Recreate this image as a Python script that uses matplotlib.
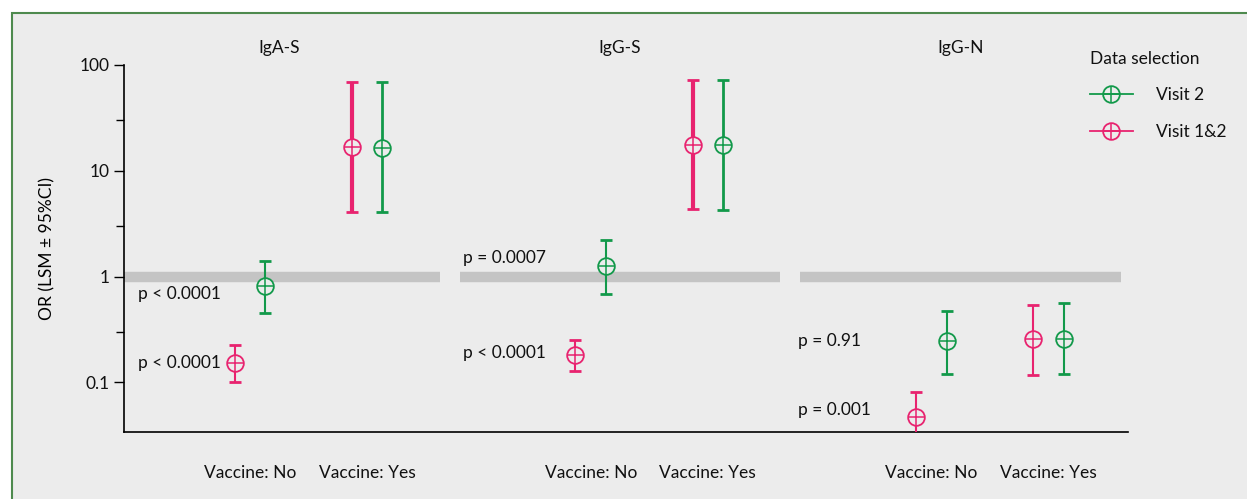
import numpy as np
import matplotlib
matplotlib.use('Agg')
import matplotlib.pyplot as plt
from matplotlib.patches import Rectangle
from matplotlib.lines import Line2D

plt.rcParams['font.family'] = ['Lato', 'DejaVu Sans']
plt.rcParams['font.size'] = 12.5
plt.rcParams['text.color'] = '#111111'

# data: OR (LSM) with 95% CI, per antibody and vaccine status
panels = ['IgA-S', 'IgG-S', 'IgG-N']
categories = ['Vaccine: No', 'Vaccine: Yes']
series = ['Visit 2', 'Visit 1&2']

# [panel][category]
v2_mid = [[0.82, 16.5], [1.27, 17.6], [0.244, 0.255]]
v2_lo = [[0.45, 4.1], [0.69, 4.3], [0.119, 0.119]]
v2_hi = [[1.41, 69], [2.23, 72], [0.47, 0.56]]

v12_mid = [[0.154, 16.8], [0.183, 17.6], [0.047, 0.255]]
v12_lo = [[0.100, 4.1], [0.127, 4.4], [0.0244, 0.117]]
v12_hi = [[0.227, 69], [0.254, 72], [0.082, 0.545]]

# p-value annotations: (panel, text, y)
p_labels = [(0, 'p < 0.0001', 0.68), (0, 'p < 0.0001', 0.154),
            (1, 'p = 0.0007', 1.51), (1, 'p < 0.0001', 0.188),
            (2, 'p = 0.91', 0.244), (2, 'p = 0.001', 0.0545)]

green = '#12994a'
pink = '#e8236f'
bg = '#ececec'

W, H = 1247, 499
fig = plt.figure(figsize=(W / 100, H / 100), dpi=100)
fig.patch.set_facecolor('white')
fig.patches.append(Rectangle((12 / W, -0.05), 1.1, 1 - 13 / H + 0.05, transform=fig.transFigure,
                             facecolor=bg, edgecolor='#4e8a4e', linewidth=1.5, zorder=-5))

ax = fig.add_axes([124 / W, 1 - 432 / H, 1004 / W, 367 / H])
ax.set_facecolor('none')
ax.set_yscale('log')
ax.set_ylim(0.034, 100)

gap = 2.91
off = 0.13
ax.set_xlim(-1.077, 7.5)

# reference bars at OR = 1
for g in range(3):
    x0 = g * gap - 1.12
    ax.plot([x0, x0 + 2.74], [1, 1], color='#c4c4c4', lw=7.5, solid_capstyle='butt', zorder=1)


def draw_point(x, mid, lo, hi, color, lw):
    ax.errorbar([x], [mid], yerr=[[mid - lo], [hi - mid]], fmt='none', ecolor=color,
                elinewidth=lw, capsize=4.5, capthick=2, zorder=3)
    ax.plot([x], [mid], marker='o', ms=12, mfc=bg, mec=color, mew=1.3, zorder=4)
    ax.plot([x], [mid], marker='+', ms=12, mec=color, mew=1.1, zorder=5)


for g in range(3):
    for c in range(2):
        x = g * gap + c
        thick = 3 if (c == 1 and g < 2) else 1.5
        draw_point(x - off, v12_mid[g][c], v12_lo[g][c], v12_hi[g][c], pink, thick)
        draw_point(x + off, v2_mid[g][c], v2_lo[g][c], v2_hi[g][c], green,
                   2 if (c == 1 and g < 2) else 1.5)
    ax.text(g * gap + 0.25, 1.045, panels[g], transform=ax.get_xaxis_transform(),
            ha='center', va='center', fontsize=12.5)

p_xoff = [-0.96, -1.09, -1.14]
for g, txt, y in p_labels:
    ax.text(g * gap + p_xoff[g], y, txt, ha='left', va='center', fontsize=12.5)

ticks = [g * gap + c for g in range(3) for c in range(2)]
ax.set_xticks(ticks)
ax.set_xticklabels(categories * 3)
ax.tick_params(axis='x', length=0, pad=24, labelsize=12.5, labelcolor='#111111')
ax.tick_params(axis='y', which='major', length=7, width=1, labelsize=12.5, labelcolor='#111111')
ax.tick_params(axis='y', which='minor', length=6, width=1)
ax.set_yticks([0.1, 1, 10, 100])
ax.set_yticklabels(['0.1', '1', '10', '100'])
ax.set_yticks([0.3, 3, 30], minor=True)
ax.set_yticklabels([], minor=True)

for s in ['top', 'right']:
    ax.spines[s].set_visible(False)
ax.spines['left'].set_linewidth(1.2)
ax.spines['bottom'].set_linewidth(1.2)

ax.set_ylabel('OR (LSM ± 95%CI)', fontsize=12.5)
ax.yaxis.set_label_coords(-0.068, 0.5)

handles = []
for col in [green, pink]:
    handles.append((Line2D([], [], color=col, lw=1.3, marker='o', ms=12, mfc='none', mec=col, mew=1.3),
                    Line2D([], [], ls='none', marker='+', ms=12, mec=col, mew=1.1)))
leg = fig.legend(handles, series, title='Data selection', loc='upper left',
                 bbox_to_anchor=(1074 / W, 1 - 35 / H), frameon=False, fontsize=12.5,
                 title_fontsize=12.5, handlelength=2.5, handletextpad=1.3, labelspacing=1.2)
leg._legend_box.align = 'left'

fig.savefig('out.png', dpi=100)
